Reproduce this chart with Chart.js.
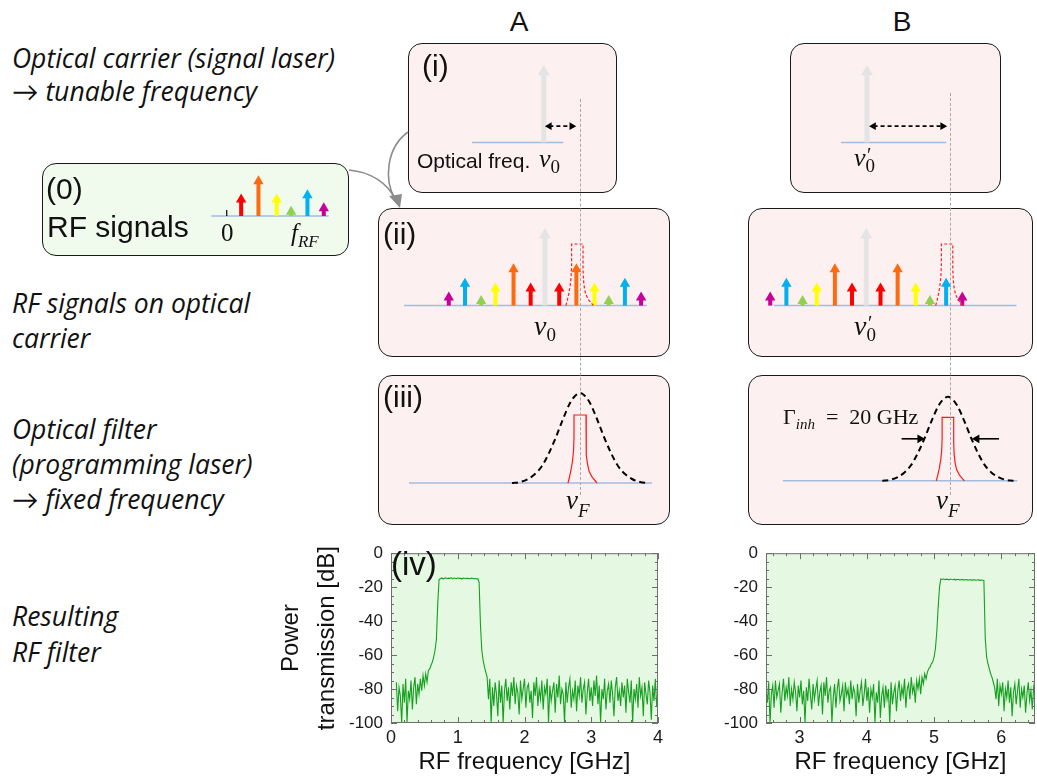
<!DOCTYPE html>
<html><head><meta charset="utf-8">
<script src="https://cdn.jsdelivr.net/npm/chart.js@4.4.1/dist/chart.umd.min.js"></script>
<style>
body{margin:0;width:1037px;height:780px;position:relative;background:#fff;overflow:hidden;font-family:"Liberation Sans",Arial,sans-serif;}
.box{position:absolute;box-sizing:border-box;border:1.6px solid #1a1a1a;border-radius:14px;background:#fdf0f0;}
.box.green{background:#f0fbee;}
.side{position:absolute;left:12px;font-family:"Open Sans",Lato,sans-serif;font-style:italic;font-size:26.5px;line-height:1;color:#111;white-space:nowrap;}
.lbl{position:absolute;line-height:1;color:#111;white-space:nowrap;}
.m{position:absolute;font-family:"Liberation Serif","DejaVu Serif",serif;line-height:1;white-space:nowrap;color:#111;}
.nu{font-style:italic;font-size:28px;}
.sb{font-size:19px;position:relative;top:6px;}
.pr{position:absolute;font-size:20px;}
canvas{position:absolute;}
.guide{position:absolute;width:0;border-left:1.5px dashed #a8a8a8;}
svg{position:absolute;left:0;top:0;}
</style></head><body>

<!-- boxes -->
<div class="box" style="left:408px;top:43px;width:209px;height:150px"></div>
<div class="box" style="left:790px;top:43px;width:211px;height:150px"></div>
<div class="box green" style="left:42px;top:163px;width:307px;height:93px"></div>
<div class="box" style="left:378px;top:208px;width:292px;height:149px"></div>
<div class="box" style="left:748px;top:208px;width:285px;height:149px"></div>
<div class="box" style="left:378px;top:375px;width:292px;height:150px"></div>
<div class="box" style="left:748px;top:375px;width:285px;height:150px"></div>

<canvas id="c_iA"></canvas><canvas id="c_iB"></canvas><canvas id="c_0"></canvas>
<canvas id="c_iiA"></canvas><canvas id="c_iiB"></canvas>
<canvas id="c_iiiA"></canvas><canvas id="c_iiiB"></canvas>
<canvas id="plotA"></canvas><canvas id="plotB"></canvas>

<div class="guide" style="left:580px;top:99px;height:396px"></div>
<div class="guide" style="left:950px;top:93px;height:402px"></div>

<!-- side texts -->
<div class="side" style="top:44.5px">Optical carrier (signal laser)</div>
<div class="side" style="top:77.5px">→ tunable frequency</div>
<div class="side" style="top:289.5px">RF signals on optical</div>
<div class="side" style="top:324.5px">carrier</div>
<div class="side" style="top:415.5px">Optical filter</div>
<div class="side" style="top:450.5px">(programming laser)</div>
<div class="side" style="top:485.5px">→ fixed frequency</div>
<div class="side" style="top:602.5px">Resulting</div>
<div class="side" style="top:638.5px">RF filter</div>

<!-- labels -->
<div class="lbl" style="left:469px;width:100px;text-align:center;top:8.3px;font-size:28px">A</div>
<div class="lbl" style="left:852px;width:100px;text-align:center;top:8.3px;font-size:28px">B</div>
<div class="lbl" style="left:422px;top:50.6px;font-size:30px">(i)</div>
<div class="lbl" style="left:46px;top:173.6px;font-size:30px">(0)</div>
<div class="lbl" style="left:47px;top:211.6px;font-size:30px">RF signals</div>
<div class="lbl" style="left:383px;top:218.6px;font-size:30px">(ii)</div>
<div class="lbl" style="left:383px;top:381.6px;font-size:30px">(iii)</div>
<div class="lbl" style="left:391px;top:547px;font-size:33px">(iv)</div>
<div class="lbl" style="left:417px;top:150.2px;font-size:21px">Optical freq.</div>

<div class="m" style="left:539px;top:146px"><span class="nu" style="font-size:26px">ν</span><span class="sb">0</span></div>
<div class="m" style="left:854px;top:145px"><span class="nu" style="font-size:26px">ν</span><span class="sb">0</span><span class="pr" style="left:13px;top:0px">′</span></div>
<div class="m" style="left:534px;top:311.5px"><span class="nu">ν</span><span class="sb">0</span></div>
<div class="m" style="left:854px;top:311.5px"><span class="nu">ν</span><span class="sb">0</span><span class="pr" style="left:14px;top:1px">′</span></div>
<div class="m" style="left:566px;top:487px"><span class="nu" style="font-size:27px">ν</span><span class="sb" style="font-style:italic;top:8px">F</span></div>
<div class="m" style="left:936px;top:487px"><span class="nu" style="font-size:27px">ν</span><span class="sb" style="font-style:italic;top:8px">F</span></div>
<div class="m" style="left:783px;top:406px;font-size:22px">Γ<span style="font-style:italic;font-size:15px;position:relative;top:5px">inh</span>&nbsp;&nbsp;=&nbsp;&nbsp;20&nbsp;GHz</div>
<div class="m" style="left:221px;top:220px;font-size:25px">0</div>
<div class="m" style="left:291px;top:220px;font-size:25px"><span style="font-style:italic">f</span><span style="font-style:italic;font-size:17px;position:relative;top:6px">RF</span></div>

<svg width="1037" height="780">
<path d="M408,132 C386,148 384,180 395,199" stroke="#8c8c8c" stroke-width="1.6" fill="none"/>
<path d="M349,170 C372,172 388,184 395,199" stroke="#8c8c8c" stroke-width="1.6" fill="none"/>
<polygon points="389,196 402,194 400,208" fill="#8c8c8c"/>
</svg>

<script>
// ================= DATA =================
// RF tones (offset from carrier / from 0 Hz, arbitrary freq. units) and amplitudes
const rfTones = ['tone1', 'tone2', 'tone3', 'tone4', 'tone5', 'tone6'];
const rfOffsets = [15, 33, 52, 67, 84, 101];
const rfAmplitudes = [25, 46, 25, 11, 30, 15];
const carrierAmplitude = 85;
// filter frequency relative to carrier
const filterDetuningA = 34;
const filterDetuningB = 85;
// inhomogeneous line (dashed black)
const gaussOffsets = [-68, -60, -52, -45, -38, -31, -24, -17, -10, -5, 0, 5, 10, 17, 24, 31, 38, 45, 52, 60, 68];
const gaussHeights = [0, 1, 4, 9, 17, 30, 46, 64, 80, 87, 90, 87, 80, 64, 46, 30, 17, 9, 4, 1, 0];
// programmed filter shape (red)
const filterOffsets = [-12, -10.5, -9, -7.5, -6.5, -6, -6, 6, 6, 6.5, 7.5, 9, 12, 17];
const filterHeights = [0, 6, 13, 22, 32, 45, 68, 68, 40, 28, 19, 12, 6, 0];
const gammaHalfWidth = 25;
const gammaLevel = 45;

// measured RF transmission (dB), sampled every 0.02 GHz
const freqStartA = 0.08, freqStepA = 0.02;
const transA = [
 -76,-93,-79,-84,-100,-77,-88,-74,-100,-81,-86,-75,-92,-79,-73,-89,-77,-83,-74,
 -81,-72,-78,-71,-76,-69,-68,-66,-64,-61,-57,-51,
 -30,-15.5,
 -15,-14.6,-15.2,-14.8,-14.5,-15,-14.7,-14.9,-14.4,-15.1,-14.6,-14.8,-15,-14.5,-14.9,-14.7,-15.2,-14.6,-14.8,-15,-14.7,-14.9,-15.1,-14.6,-14.8,-15,-14.9,-15.2,-15,
 -17,-42,-57,-63,-67,-70,-73,
 -86,-74,-100,-79,-90,-76,-83,-96,-75,-88,
 -78,-100,-81,-74,-87,-79,-92,-76,-84,-73,
 -89,-78,-82,-95,-75,-86,-80,-74,-91,-79,
 -77,-88,-81,-97,-76,-84,-73,-90,-80,-86,
 -75,-92,-79,-83,-74,-100,-78,-87,-81,-76,
 -94,-77,-85,-72,-89,-80,-83,-100,-76,-88,
 -79,-74,-91,-81,-86,-75,-93,-78,-84,-73,
 -88,-80,-76,-95,-82,-74,-87,-79,-90,-75,
 -84,-72,-89,-78,-100,-80,-86,-74,-92,-81,
 -77,-88,-75,-83,-96,-79,-73,-87,-81,-90,
 -76,-85,-78,-94,-74,-82,-88,-75,-100,-80,
 -86,-77,-91,-73,-84,-79,-96,-76,-83,-89,
 -75,-82,-98,-78,-87,-74,-90,-81
];
const freqStartB = 2.5, freqStepB = 0.02;
const transB = [
 -80,-88,-76,-100,-83,-78,-91,-75,-85,-81,
 -77,-94,-82,-74,-87,-79,-84,-73,-90,-80,
 -86,-76,-82,-93,-78,-85,-75,-89,-81,-100,
 -79,-87,-74,-83,-92,-77,-86,-80,-75,-90,
 -82,-78,-95,-76,-84,-73,-88,-81,-79,-100,
 -85,-77,-91,-80,-74,-87,-83,-78,-93,-76,
 -84,-80,-89,-75,-86,-79,-82,-96,-77,-88,
 -81,-76,-90,-83,-74,-87,-79,-94,-80,-85,
 -77,-100,-82,-88,-75,-97,-84,-79,-91,-78,
 -86,-80,-100,-76,-89,-82,-78,-93,-81,-75,
 -87,-79,-84,-74,-91,-80,-77,-86,-73,-82,
 -78,-88,-75,-80,-74,-83,
 -73,-77,-71,-74,-70,-68,-67,-65,-64,-61,-56,-46,-32,-20,
 -15.2,-15.5,-15.1,-15.6,-15.3,-15.4,-15.7,-15.2,-15.5,-15.6,-15.3,-15.8,-15.4,-15.5,-15.7,-15.6,-15.4,-15.9,-15.5,-15.7,-15.6,-15.8,-15.5,-16,-15.7,-15.6,-15.9,-15.8,-15.7,-16,-15.8,-15.9,-16,
 -50,-61,-65,-68,-71,-73,-76,
 -79,-86,-74,-90,-78,-83,-76,-93,-80,-85,-75,-88,-79,-96,-82,-77,-89,-81,-74,-91,-80,-85,-78,-94,-83,-76,-87,-81,-92,-79,-84
];
const xTicksA = [0, 1, 2, 3, 4];
const xTicksB = [3, 4, 5, 6];
const yTicks = [0, -20, -40, -60, -80, -100];

// ================= STYLES =================
const rfColors = ['#ff0000', '#ff6a10', '#ffff00', '#92d050', '#00b0f0', '#c8009a'];
const carrierColor = '#e4e4e4';
const baseColor = '#9fbde0';
const traceColor = '#15a01f';
const plotBg = '#e5f8e2';
const SANS = '"Liberation Sans", Arial, sans-serif';

// ================= HELPERS =================
function arrowDS(x, amp, color, w, r) {
  return { data: [{x: x, y: 0}, {x: x, y: amp - r}], showLine: true, borderColor: color, borderWidth: w,
    borderCapStyle: 'butt', pointRadius: [0, r], pointHoverRadius: 0, pointStyle: 'triangle',
    pointBackgroundColor: color, pointBorderWidth: 0, order: 2 };
}
function lineDS(pts, color, w, dash, order, extra) {
  return Object.assign({ data: pts, showLine: true, borderColor: color, borderWidth: w, borderDash: dash || [],
    pointRadius: 0, pointHoverRadius: 0, order: order }, extra || {});
}
function baseDS(a, b) { return lineDS([{x: a, y: 0}, {x: b, y: 0}], baseColor, 1.5, null, 10); }
function rfArrows(sides) {
  const out = [];
  sides.forEach(s => rfOffsets.forEach((o, i) => {
    out.push(arrowDS(s * o, rfAmplitudes[i], rfColors[i], 4, 6));
  }));
  return out;
}
function shapeDS(center, offs, hts, color, w, dash, extra) {
  return lineDS(offs.map((o, i) => ({x: center + o, y: hts[i]})), color, w, dash, 0, extra);
}
function dblArrow(x1, x2, y, color) {
  return [
    lineDS([{x: x1 + 4, y: y}, {x: x2 - 4, y: y}], color, 1.8, [4, 3], 1),
    { data: [{x: x1 + 4, y: y}, {x: x2 - 4, y: y}], showLine: false, pointStyle: 'triangle', pointRadius: 4.5,
      pointRotation: [-90, 90], pointBackgroundColor: color, pointBorderWidth: 0, pointHoverRadius: 0, order: 1 }
  ];
}
function singleArrow(xFrom, xTip, y, color) {
  const dir = xTip > xFrom ? 1 : -1, r = 5;
  return [
    lineDS([{x: xFrom, y: y}, {x: xTip - dir * r, y: y}], color, 1.6, null, 1),
    { data: [{x: xTip - dir * r, y: y}], showLine: false, pointStyle: 'triangle', pointRadius: r,
      pointRotation: dir > 0 ? 90 : -90, pointBackgroundColor: color, pointBorderWidth: 0, pointHoverRadius: 0, order: 1 }
  ];
}
function diagram(id, rect, xmin, ymin, datasets) {
  const c = document.getElementById(id);
  c.width = rect.w; c.height = rect.h;
  c.style.left = rect.x + 'px'; c.style.top = rect.y + 'px';
  new Chart(c, {
    type: 'scatter',
    data: { datasets: datasets },
    options: {
      responsive: false, animation: false, events: [],
      layout: { padding: 0 },
      plugins: { legend: { display: false }, tooltip: { enabled: false } },
      scales: {
        x: { type: 'linear', display: false, min: xmin, max: xmin + rect.w },
        y: { type: 'linear', display: false, min: ymin, max: ymin + rect.h }
      }
    }
  });
}

// (i) optical carrier
diagram('c_iA', {x: 408, y: 43, w: 209, h: 150}, -138, -48, [
  ...dblArrow(2, filterDetuningA, 18, '#000'),
  arrowDS(0, carrierAmplitude, carrierColor, 5, 7),
  baseDS(-77, 21)
]);
diagram('c_iB', {x: 790, y: 43, w: 211, h: 150}, -75, -48, [
  ...dblArrow(3, filterDetuningB, 18, '#000'),
  arrowDS(0, carrierAmplitude, carrierColor, 5, 7),
  baseDS(-28, filterDetuningB)
]);
// (0) RF signals
diagram('c_0', {x: 42, y: 163, w: 307, h: 93}, -186, -39, [
  ...rfArrows([1]),
  lineDS([{x: 0, y: 0}, {x: 0, y: 7}], '#000', 1.2, null, 3),
  baseDS(-16, 106)
]);
// (ii) RF on optical carrier
diagram('c_iiA', {x: 378, y: 208, w: 292, h: 149}, -168, -49, [
  shapeDS(filterDetuningA, filterOffsets, filterHeights, '#ff2020', 1.2, [3, 2]),
  ...rfArrows([-1, 1]),
  arrowDS(0, carrierAmplitude, carrierColor, 5, 7),
  baseDS(-148, 107)
]);
diagram('c_iiB', {x: 748, y: 208, w: 285, h: 149}, -117, -49, [
  shapeDS(filterDetuningB, filterOffsets, filterHeights, '#ff2020', 1.2, [3, 2]),
  ...rfArrows([-1, 1]),
  arrowDS(0, carrierAmplitude, carrierColor, 5, 7),
  baseDS(-97, 158)
]);
// (iii) optical filter
diagram('c_iiiA', {x: 378, y: 375, w: 292, h: 150}, -202, -42, [
  shapeDS(0, filterOffsets, filterHeights, '#ff1a1a', 1.2, null),
  shapeDS(0, gaussOffsets, gaussHeights, '#000', 2, [6, 4], {cubicInterpolationMode: 'monotone'}),
  baseDS(-171, 72)
]);
diagram('c_iiiB', {x: 748, y: 375, w: 285, h: 150}, -202, -42, [
  shapeDS(0, filterOffsets, filterHeights, '#ff1a1a', 1.2, null),
  shapeDS(0, gaussOffsets, gaussHeights, '#000', 2, [6, 4], {cubicInterpolationMode: 'monotone'}),
  ...singleArrow(-48, -gammaHalfWidth + 1, gammaLevel, '#000'),
  ...singleArrow(53, gammaHalfWidth, gammaLevel, '#000'),
  baseDS(-171, 72)
]);

// ================= RF filter plots =================
const framePlugin = {
  id: 'frame',
  beforeDatasetsDraw(chart) {
    const a = chart.chartArea, ctx = chart.ctx;
    ctx.save(); ctx.fillStyle = plotBg;
    ctx.fillRect(a.left, a.top, a.right - a.left, a.bottom - a.top); ctx.restore();
  },
  afterDatasetsDraw(chart) {
    const a = chart.chartArea, ctx = chart.ctx, xs = chart.scales.x, ys = chart.scales.y;
    ctx.save(); ctx.strokeStyle = '#6e6e6e'; ctx.lineWidth = 1;
    ctx.strokeRect(a.left + 0.5, a.top + 0.5, a.right - a.left - 1, a.bottom - a.top - 1);
    const seg = (x1, y1, x2, y2) => { ctx.beginPath(); ctx.moveTo(x1, y1); ctx.lineTo(x2, y2); ctx.stroke(); };
    for (let k = Math.ceil(xs.min * 5 - 1e-9); k <= Math.floor(xs.max * 5 + 1e-9); k++) {
      const p = Math.round(xs.getPixelForValue(k / 5)) + 0.5, len = (Math.abs(k) % 5 === 0) ? 6 : 3;
      seg(p, a.bottom, p, a.bottom - len); seg(p, a.top, p, a.top + len);
    }
    for (let k = Math.ceil(ys.min / 5); k <= Math.floor(ys.max / 5); k++) {
      const v = k * 5, p = Math.round(ys.getPixelForValue(v)) + 0.5, len = (Math.abs(v) % 20 === 0) ? 6 : 3;
      seg(a.left, p, a.left + len, p); seg(a.right, p, a.right - len, p);
    }
    ctx.restore();
  }
};

function plot(id, rect, start, step, vals, xmin, xmax, xTicks, yW, padR, yTitle) {
  const c = document.getElementById(id);
  c.width = rect.w; c.height = rect.h;
  c.style.left = rect.x + 'px'; c.style.top = rect.y + 'px';
  const pts = vals.map((v, i) => ({x: +(start + i * step).toFixed(3), y: v}));
  new Chart(c, {
    type: 'line',
    data: { datasets: [{ data: pts, borderColor: traceColor, borderWidth: 1.1, pointRadius: 0, pointHoverRadius: 0, tension: 0, fill: false }] },
    options: {
      responsive: false, animation: false, events: [],
      layout: { padding: { top: 10, right: padR, left: 0, bottom: 0 } },
      plugins: { legend: { display: false }, tooltip: { enabled: false } },
      scales: {
        x: {
          type: 'linear', min: xmin, max: xmax,
          grid: { display: false, drawTicks: false }, border: { display: false },
          afterBuildTicks: s => { s.ticks = xTicks.map(v => ({value: v})); },
          ticks: { font: { family: SANS, size: 18 }, color: '#1a1a1a', padding: 4, maxRotation: 0, autoSkip: false },
          title: { display: true, text: 'RF frequency [GHz]', color: '#111', font: { family: SANS, size: 24 }, padding: { top: 0, bottom: 3 } },
          afterFit: s => { s.height = 57; }
        },
        y: {
          type: 'linear', min: -100, max: 0,
          grid: { display: false, drawTicks: false }, border: { display: false },
          afterBuildTicks: s => { s.ticks = yTicks.map(v => ({value: v})); },
          ticks: { font: { family: SANS, size: 17 }, color: '#1a1a1a', padding: 8, autoSkip: false },
          title: { display: yTitle, text: ['Power', 'transmission [dB]'], color: '#111', font: { family: SANS, size: 24, lineHeight: 1.5 }, padding: { top: 3.5, bottom: 0 } },
          afterFit: s => { s.width = yW; }
        }
      }
    },
    plugins: [framePlugin]
  });
}
plot('plotA', {x: 270, y: 535, w: 400, h: 245}, freqStartA, freqStepA, transA, 0, 4, xTicksA, 121, 12, true);
plot('plotB', {x: 690, y: 535, w: 347, h: 245}, freqStartB, freqStepB, transB, 2.5, 6.5, xTicksB, 76, 2, false);
</script>
</body></html>
